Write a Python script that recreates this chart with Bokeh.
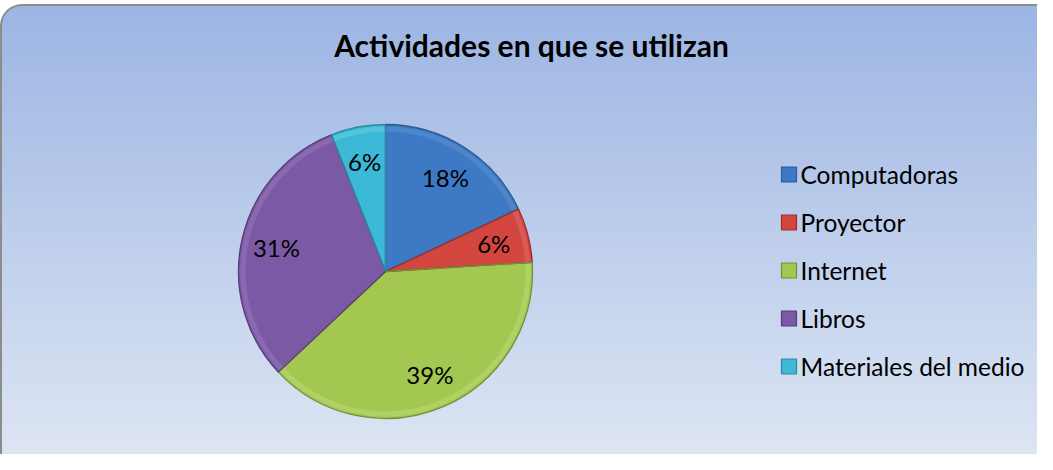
import math
from bokeh.plotting import figure
from bokeh.models import ColumnDataSource, Range1d, Label
from bokeh.core.properties import value
from bokeh.embed import file_html
from bokeh.resources import INLINE

# ---- data ----
title_text = "Actividades en que se utilizan"
categories = ["Computadoras", "Proyector", "Internet", "Libros", "Materiales del medio"]
values = [18, 6, 39, 31, 6]
colors = ["#3D79C4", "#D2463F", "#A3C751", "#7C59A5", "#3CB9D6"]
edge_colors = ["#2C5A94", "#9A302B", "#73903A", "#573C78", "#2A8AA2"]
light_colors = ["#6FA0DC", "#E8807A", "#C9E58A", "#A486C6", "#80D6EA"]

# ---- layout (pixels) ----
W, H = 1037, 450
R = 147
cx, cy = 383, 265
FONT = "Lato"

total = float(sum(values))
starts, ends, lx, ly, labels = [], [], [], [], []
cum = 0.0
for v in values:
    a0 = math.pi / 2 - 2 * math.pi * cum / total
    cum += v
    a1 = math.pi / 2 - 2 * math.pi * cum / total
    starts.append(a0)
    ends.append(a1)
    mid = (a0 + a1) / 2
    lx.append(0.76 * R * math.cos(mid))
    ly.append(0.76 * R * math.sin(mid))
    labels.append(f"{round(100 * v / total)}%")

src = ColumnDataSource(dict(cat=categories, val=values, start=starts, end=ends,
                            color=colors, edge=edge_colors, light=light_colors,
                            lx=lx, ly=ly, lab=labels))

p = figure(width=W, height=H, output_backend="svg", toolbar_location=None,
           x_range=Range1d(-cx, W - cx), y_range=Range1d(-(H - cy), cy),
           x_axis_type=None, y_axis_type=None, min_border=0,
           background_fill_alpha=0, border_fill_alpha=0)
p.grid.visible = False
p.outline_line_color = None
p.styles = {
    "background": "linear-gradient(to bottom, #9CB5E3 0%, #DDE5F3 100%)",
    "border-top": "2px solid #8C8C8C",
    "border-left": "2px solid #8C8C8C",
    "border-top-left-radius": "22px",
    "margin-top": "4px",
    "box-sizing": "border-box",
}

# slices
p.wedge(x=0, y=0, radius=R, start_angle="start", end_angle="end", direction="clock",
        fill_color="color", line_color=None, source=src)
# soft bevel: light rim inside and dark outer edge
p.annular_wedge(x=0, y=0, inner_radius=R - 7, outer_radius=R - 2, start_angle="start",
                end_angle="end", direction="clock", fill_color="light", fill_alpha=0.35,
                line_color=None, source=src)
p.wedge(x=0, y=0, radius=R, start_angle="start", end_angle="end", direction="clock",
        fill_color=None, line_color="edge", line_width=1.3, source=src)

p.text(x="lx", y="ly", text="lab", source=src, text_align="center", text_baseline="middle",
       text_font=value(FONT), text_font_size="24px", text_color="#000000")

# legend (manual)
leg_x0 = 779 - cx + 7.5
leg_top = 168
step = 48
lgx = [leg_x0] * len(categories)
lgy = [cy - (leg_top + i * step) for i in range(len(categories))]
lsrc = ColumnDataSource(dict(x=lgx, y=lgy, tx=[leg_x0 + 7.5 + 4] * len(categories),
                             cat=categories, color=colors, edge=edge_colors))
p.scatter(x="x", y="y", marker="square", size=15, fill_color="color", line_color="edge",
          line_width=1.2, source=lsrc)
p.text(x="tx", y="y", text="cat", source=lsrc, text_align="left", text_baseline="middle",
       text_font=value(FONT), text_font_size="24.5px", text_color="#000000")

p.add_layout(Label(x=529, y=H - 38, x_units="screen", y_units="screen", text=title_text,
                   text_align="center", text_baseline="middle", text_font=FONT,
                   text_font_style="bold", text_font_size="30px", text_color="#000000"))

open("out.html", "w").write(file_html(p, INLINE))
